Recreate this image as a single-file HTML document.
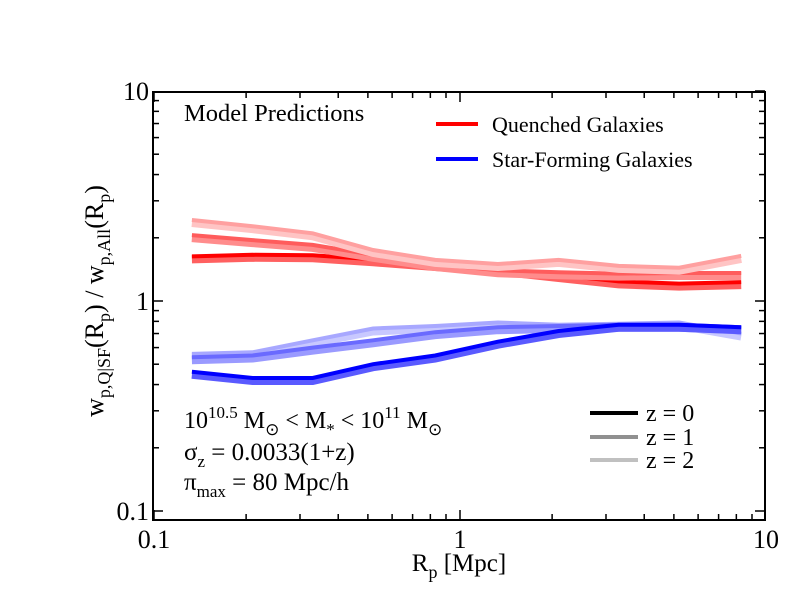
<!DOCTYPE html>
<html><head><meta charset="utf-8">
<style>
html,body{margin:0;padding:0;background:#fff;}
svg{display:block;font-family:"Liberation Serif",serif;}
</style></head>
<body>
<svg id="chart" width="792" height="612" viewBox="0 0 792 612">
  <g id="series"></g>
  <rect x="153" y="92" width="612" height="428" fill="none" stroke="#000" stroke-width="2"/>
  <g id="ticks"></g>
  <text x="184" y="121" font-size="24.5">Model Predictions</text>
  <g>
    <line x1="436" y1="124" x2="478" y2="124" stroke="#ff0000" stroke-width="4"/>
    <text x="492" y="132" font-size="22">Quenched Galaxies</text>
  </g>
  <g>
    <line x1="436" y1="159" x2="478" y2="159" stroke="#0000ff" stroke-width="4"/>
    <text x="492" y="167" font-size="22">Star-Forming Galaxies</text>
  </g>
  <g>
    <line x1="590" y1="413" x2="638" y2="413" stroke="#000" stroke-width="4"/>
    <text x="646" y="421" font-size="24">z = 0</text>
  </g>
  <g>
    <line x1="590" y1="437" x2="638" y2="437" stroke="#909090" stroke-width="4"/>
    <text x="646" y="445" font-size="24">z = 1</text>
  </g>
  <g>
    <line x1="590" y1="460" x2="638" y2="460" stroke="#c0c0c0" stroke-width="4"/>
    <text x="646" y="468" font-size="24">z = 2</text>
  </g>
  <text x="184" y="428" font-size="24">10<tspan dy="-10" font-size="17">10.5</tspan><tspan dy="10"> M</tspan><tspan dy="7" font-size="17">⊙</tspan><tspan dy="-7"> &lt; M</tspan><tspan dy="7" font-size="17">*</tspan><tspan dy="-7"> &lt; 10</tspan><tspan dy="-10" font-size="17">11</tspan><tspan dy="10"> M</tspan><tspan dy="7" font-size="17">⊙</tspan></text>
  <text x="184" y="460" font-size="25">σ<tspan dy="7" font-size="17">z</tspan><tspan dy="-7"> = 0.0033(1+z)</tspan></text>
  <text x="184" y="490" font-size="25">π<tspan dy="7" font-size="17">max</tspan><tspan dy="-7"> = 80 Mpc/h</tspan></text>
  <text x="459" y="571" font-size="25" text-anchor="middle">R<tspan dy="7" font-size="18">p</tspan><tspan dy="-7"> [Mpc]</tspan></text>
  <text transform="translate(103,301) rotate(-90)" font-size="26" text-anchor="middle">w<tspan dy="7" font-size="18">p,Q|SF</tspan><tspan dy="-7">(R</tspan><tspan dy="7" font-size="18">p</tspan><tspan dy="-7">) / w</tspan><tspan dy="7" font-size="18">p,All</tspan><tspan dy="-7">(R</tspan><tspan dy="7" font-size="18">p</tspan><tspan dy="-7">)</tspan></text>
</svg>
<script>
const radii = [0.133, 0.21, 0.33, 0.52, 0.83, 1.33, 2.1, 3.3, 5.2, 8.3];
const redZ0 = [1.63, 1.66, 1.65, 1.58, 1.50, 1.43, 1.33, 1.24, 1.21, 1.23];
const redZ1 = [2.06, 1.95, 1.85, 1.66, 1.50, 1.40, 1.37, 1.35, 1.36, 1.36];
const redZ2 = [2.43, 2.27, 2.10, 1.75, 1.57, 1.50, 1.57, 1.47, 1.44, 1.64];
const blueZ0 = [0.46, 0.43, 0.43, 0.50, 0.55, 0.64, 0.72, 0.77, 0.77, 0.75];
const blueZ1 = [0.54, 0.55, 0.60, 0.65, 0.71, 0.75, 0.76, 0.77, 0.77, 0.75];
const blueZ2 = [0.56, 0.57, 0.65, 0.74, 0.76, 0.79, 0.77, 0.78, 0.79, 0.70];
const xTickLabels = ["0.1", "1", "10"];
const yTickLabels = ["0.1", "1", "10"];

const NS = "http://www.w3.org/2000/svg";
function xs(v){ return 154 + 306 * (Math.log10(v) + 1); }
function ys(v){ return 301 - 210 * Math.log10(v); }

const seriesList = [
  {name:"quenched-z0", vals:redZ0, line:"#ff0000", band:"#ff6060"},
  {name:"quenched-z1", vals:redZ1, line:"#ff5c5c", band:"#ff8c8c"},
  {name:"quenched-z2", vals:redZ2, line:"#ffa0a0", band:"#ffc4c4"},
  {name:"star-forming-z2", vals:blueZ2, line:"#a8a8ff", band:"#c8c8ff"},
  {name:"star-forming-z1", vals:blueZ1, line:"#6a6aff", band:"#9a9aff"},
  {name:"star-forming-z0", vals:blueZ0, line:"#0000ff", band:"#5a5aff"}
];
const sl = document.getElementById("series");
seriesList.forEach(s => {
  const g = document.createElementNS(NS, "g");
  
  
  const ptsBand = radii.map((r,i)=> xs(r).toFixed(1)+","+(ys(s.vals[i])+3).toFixed(1)).join(" ");
  const pts = radii.map((r,i)=> xs(r).toFixed(1)+","+ys(s.vals[i]).toFixed(1)).join(" ");
  const b = document.createElementNS(NS, "polyline");
  
  
  b.setAttribute("points", ptsBand);
  b.setAttribute("fill", "none"); b.setAttribute("stroke", s.band); b.setAttribute("stroke-width", "8");
  g.appendChild(b);
  const l = document.createElementNS(NS, "polyline");
  
  
  l.setAttribute("points", pts);
  l.setAttribute("fill", "none"); l.setAttribute("stroke", s.line); l.setAttribute("stroke-width", "4");
  g.appendChild(l);
  sl.appendChild(g);
});

const tk = document.getElementById("ticks");
function addLine(x1,y1,x2,y2){
  const l = document.createElementNS(NS, "line");
  
  
  l.setAttribute("x1",x1); l.setAttribute("y1",y1); l.setAttribute("x2",x2); l.setAttribute("y2",y2);
  l.setAttribute("stroke","#000"); l.setAttribute("stroke-width","1.5");
  tk.appendChild(l);
}
function addText(x,y,t,anchor){
  const e = document.createElementNS(NS, "text");
  
  
  e.setAttribute("x",x); e.setAttribute("y",y); e.setAttribute("font-size","26");
  e.setAttribute("text-anchor",anchor); e.textContent = t;
  tk.appendChild(e);
}
for (let d=0; d<2; d++){
  for (let m=1; m<=9; m++){
    const v = Math.pow(10, d-1) * m;
    const x = xs(v), y = ys(v);
    const len = m===1 ? 10 : 6;
    if (x>=153 && x<=766){ addLine(x,520,x,520-len); addLine(x,92,x,92+len); }
    if (y>=92 && y<=520){ addLine(153,y,153+len,y); addLine(765,y,765-len,y); }
  }
}
addLine(765, ys(10), 755, ys(10));
xTickLabels.forEach(t => addText(xs(parseFloat(t)), 548, t, "middle"));
yTickLabels.forEach(t => addText(149, ys(parseFloat(t))+9, t, "end"));
</script>
</body></html>
